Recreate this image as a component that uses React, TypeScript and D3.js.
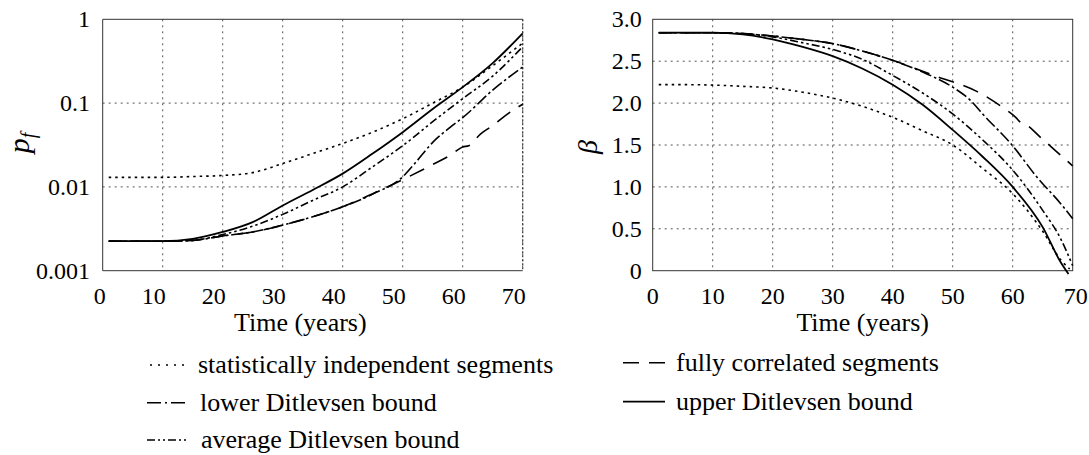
import React from 'react';
import * as d3 from 'd3';

// ---------- data (left panel: probability of failure) ----------
const T_IND = [1, 5, 10, 15, 20, 25, 30, 35, 40, 45, 50, 55, 60, 65, 70];
const PF_INDEP = [0.013, 0.013, 0.013, 0.0133, 0.0137, 0.0148, 0.019, 0.025, 0.033, 0.045, 0.065, 0.1, 0.155, 0.28, 0.52];
const T_UP = [1, 5, 10, 15, 20, 25, 30, 35, 40, 45, 50, 55, 60, 65, 70];
const PF_UPPER = [0.00225, 0.00225, 0.00225, 0.0024, 0.0029, 0.0038, 0.006, 0.0092, 0.0144, 0.025, 0.045, 0.085, 0.155, 0.3, 0.68];
const T_AVG = [1, 5, 10, 15, 20, 25, 30, 35, 40, 45, 50, 55, 60, 65, 70];
const PF_AVG = [0.00225, 0.00225, 0.00225, 0.0023, 0.0027, 0.0034, 0.0047, 0.0069, 0.01, 0.0174, 0.031, 0.06, 0.113, 0.21, 0.47];
const T_LOW = [1, 5, 10, 15, 20, 25, 30, 35, 40, 45, 50, 52, 55, 58, 60, 65, 70];
const PF_LOWER = [0.00225, 0.00225, 0.00225, 0.0023, 0.0026, 0.0029, 0.0035, 0.0044, 0.0058, 0.0082, 0.0132, 0.019, 0.034, 0.052, 0.067, 0.143, 0.27];
const T_CORR = [1, 5, 10, 15, 20, 25, 30, 35, 40, 45, 50, 55, 58, 60, 61, 63, 65, 67, 70];
const PF_CORR = [0.00225, 0.00225, 0.00225, 0.0023, 0.0026, 0.0029, 0.0035, 0.0044, 0.0058, 0.0083, 0.0122, 0.0185, 0.024, 0.03, 0.031, 0.043, 0.054, 0.07, 0.097];

// ---------- data (right panel: reliability index) ----------
const TB_IND = [1, 5, 10, 15, 20, 25, 30, 35, 40, 45, 50, 55, 60, 65, 68, 69.5];
const B_INDEP = [2.22, 2.22, 2.215, 2.2, 2.18, 2.13, 2.06, 1.96, 1.83, 1.67, 1.5, 1.22, 0.92, 0.47, 0.13, 0.02];
const TB_UP = [1, 5, 10, 15, 20, 25, 30, 35, 40, 45, 50, 55, 60, 65, 68, 69.3];
const B_UPPER = [2.84, 2.84, 2.84, 2.82, 2.76, 2.67, 2.56, 2.41, 2.22, 1.98, 1.68, 1.36, 1.0, 0.52, 0.1, -0.04];
const TB_AVG = [1, 5, 10, 15, 20, 25, 30, 35, 40, 45, 50, 55, 60, 65, 68, 70];
const B_AVG = [2.84, 2.84, 2.84, 2.83, 2.79, 2.72, 2.64, 2.52, 2.33, 2.12, 1.87, 1.56, 1.2, 0.72, 0.38, 0.06];
const TB_LOW = [1, 5, 10, 15, 20, 25, 30, 35, 40, 45, 50, 53, 55, 60, 64, 68, 70];
const B_LOWER = [2.84, 2.84, 2.84, 2.83, 2.8, 2.76, 2.71, 2.62, 2.51, 2.37, 2.19, 2.03, 1.87, 1.49, 1.12, 0.8, 0.62];
const TB_CORR = [1, 5, 10, 15, 20, 25, 30, 35, 40, 45, 48, 51, 54, 56, 58.5, 60.5, 61.3, 62.3, 64.5, 66.7, 68.6, 70];
const B_CORR = [2.84, 2.84, 2.84, 2.83, 2.8, 2.76, 2.71, 2.62, 2.51, 2.38, 2.3, 2.23, 2.14, 2.06, 1.94, 1.83, 1.77, 1.74, 1.6, 1.46, 1.34, 1.25];

// ---------- ticks / labels ----------
const X_TICKS = [0, 10, 20, 30, 40, 50, 60, 70];
const PF_TICKS = [1, 0.1, 0.01, 0.001];
const PF_TICK_LABELS = ['1', '0.1', '0.01', '0.001'];
const B_TICKS = [3.0, 2.5, 2.0, 1.5, 1.0, 0.5, 0];
const B_TICK_LABELS = ['3.0', '2.5', '2.0', '1.5', '1.0', '0.5', '0'];
const X_TITLE = 'Time (years)';

const SERIES = [
  { key: 'indep', label: 'statistically independent segments', dash: '2.5,4', legendDash: '2,6', width: 1.6 },
  { key: 'corr', label: 'fully correlated segments', dash: '16,10', legendDash: '16,10', width: 1.6 },
  { key: 'lower', label: 'lower Ditlevsen bound', dash: '12,3,2.5,3', legendDash: '14,4,2,4', width: 1.6 },
  { key: 'upper', label: 'upper Ditlevsen bound', dash: undefined, legendDash: undefined, width: 1.8 },
  { key: 'avg', label: 'average Ditlevsen bound', dash: '8,3,2.5,3,2.5,3', legendDash: '8,3,2,3,2,3', width: 1.6 },
];

const FONT = '"Liberation Serif", "Times New Roman", serif';
const GRID = '#555';

function zip(t: number[], v: number[]) {
  return t.map((x, i) => [x, v[i]] as [number, number]);
}

export default function App() {
  const top = 19.3, bottom = 270.7;
  const xL = d3.scaleLinear().domain([0, 70]).range([102.7, 522.7]);
  const yL = d3.scaleLog().domain([0.001, 1]).range([bottom, top]);
  const xR = d3.scaleLinear().domain([0, 70]).range([652.7, 1072.7]);
  const yR = d3.scaleLinear().domain([0, 3]).range([bottom, top]);

  const lineL = d3.line<[number, number]>().x(d => xL(d[0])).y(d => yL(d[1])).curve(d3.curveMonotoneX);
  const lineR = d3.line<[number, number]>().x(d => xR(d[0])).y(d => yR(d[1])).curve(d3.curveMonotoneX);

  const leftData: Record<string, [number, number][]> = {
    indep: zip(T_IND, PF_INDEP),
    corr: zip(T_CORR, PF_CORR),
    lower: zip(T_LOW, PF_LOWER),
    upper: zip(T_UP, PF_UPPER),
    avg: zip(T_AVG, PF_AVG),
  };
  const rightData: Record<string, [number, number][]> = {
    indep: zip(TB_IND, B_INDEP),
    corr: zip(TB_CORR, B_CORR),
    lower: zip(TB_LOW, B_LOWER),
    upper: zip(TB_UP, B_UPPER),
    avg: zip(TB_AVG, B_AVG),
  };

  const legendPos: Record<string, { x1: number; x2: number; y: number; tx: number }> = {
    indep: { x1: 150, x2: 189, y: 365, tx: 198 },
    lower: { x1: 147, x2: 189, y: 402.7, tx: 200 },
    avg: { x1: 147, x2: 189, y: 440, tx: 201 },
    corr: { x1: 623, x2: 665, y: 362.7, tx: 676 },
    upper: { x1: 623, x2: 665, y: 401.7, tx: 676 },
  };

  return (
    <div style={{ position: 'absolute', left: 0, top: 0 }}>
      <svg width={1089} height={455} style={{ display: 'block', background: '#fff' }} fontFamily={FONT}>
        {/* ---------- LEFT PANEL ---------- */}
        <g>
          {X_TICKS.filter(t => t > 0).map(t => (
            <line key={'lgx' + t} x1={xL(t)} x2={xL(t)} y1={top} y2={bottom} stroke={GRID} strokeWidth={1} strokeDasharray="2,4" />
          ))}
          {PF_TICKS.filter(v => v !== 1 && v !== 0.001).map(v => (
            <line key={'lgy' + v} x1={xL(0)} x2={xL(70)} y1={yL(v)} y2={yL(v)} stroke={GRID} strokeWidth={1} strokeDasharray="2,4" />
          ))}
          <path d={`M${xL(70)},${top}H${xL(0)}V${bottom}H${xL(70)}`} fill="none" stroke="#333" strokeWidth={1} />
          <line x1={xL(70)} x2={xL(70)} y1={top} y2={bottom} stroke="#333" strokeWidth={1.2} strokeDasharray="2,2" />
          {SERIES.map(s => (
            <path key={'l' + s.key} d={lineL(leftData[s.key]) || ''} fill="none" stroke="#000"
              strokeWidth={s.width} strokeDasharray={s.dash} />
          ))}
          {PF_TICKS.map((v, i) => (
            <text key={'lty' + v} x={90} y={yL(v)} dy="0.34em" textAnchor="end" fontSize={24}>{PF_TICK_LABELS[i]}</text>
          ))}
          {X_TICKS.map(t => (
            <text key={'ltx' + t} x={xL(t) + 3} y={304} textAnchor="end" fontSize={24}>{t}</text>
          ))}
          <text x={234} y={331} fontSize={26}>{X_TITLE}</text>
          <text transform="translate(29,143) rotate(-90)" textAnchor="middle" fontSize={30} fontStyle="italic">
            p<tspan fontSize={20} dy={6}>f</tspan>
          </text>
        </g>

        {/* ---------- RIGHT PANEL ---------- */}
        <g>
          {X_TICKS.filter(t => t > 0 && t < 70).map(t => (
            <line key={'rgx' + t} x1={xR(t)} x2={xR(t)} y1={top} y2={bottom} stroke={GRID} strokeWidth={1} strokeDasharray="2,4" />
          ))}
          {B_TICKS.filter(v => v > 0 && v < 3).map(v => (
            <line key={'rgy' + v} x1={xR(0)} x2={xR(70)} y1={yR(v)} y2={yR(v)} stroke={GRID} strokeWidth={1} strokeDasharray="2,4" />
          ))}
          <rect x={xR(0)} y={top} width={xR(70) - xR(0)} height={bottom - top} fill="none" stroke="#333" strokeWidth={1} />
          {SERIES.map(s => (
            <path key={'r' + s.key} d={lineR(rightData[s.key]) || ''} fill="none" stroke="#000"
              strokeWidth={s.width} strokeDasharray={s.dash} />
          ))}
          {B_TICKS.map((v, i) => (
            <text key={'rty' + v} x={641.7} y={yR(v)} dy="0.34em" textAnchor="end" fontSize={24}>{B_TICK_LABELS[i]}</text>
          ))}
          {X_TICKS.map(t => (
            <text key={'rtx' + t} x={xR(t) + (t === 70 ? 3 : 0)} y={304} textAnchor="middle" fontSize={24}>{t}</text>
          ))}
          <text x={(xR(0) + xR(70)) / 2} y={331} textAnchor="middle" fontSize={26}>{X_TITLE}</text>
          <text transform="translate(597,147) rotate(-90)" textAnchor="middle" fontSize={28} fontStyle="italic">β</text>
        </g>

        {/* ---------- LEGEND ---------- */}
        {SERIES.map(s => {
          const p = legendPos[s.key];
          return (
            <g key={'lg' + s.key}>
              <line x1={p.x1} x2={p.x2} y1={p.y} y2={p.y} stroke="#000" strokeWidth={s.width} strokeDasharray={s.legendDash} />
              <text x={p.tx} y={p.y + 8} fontSize={26}>{s.label}</text>
            </g>
          );
        })}
      </svg>
    </div>
  );
}
